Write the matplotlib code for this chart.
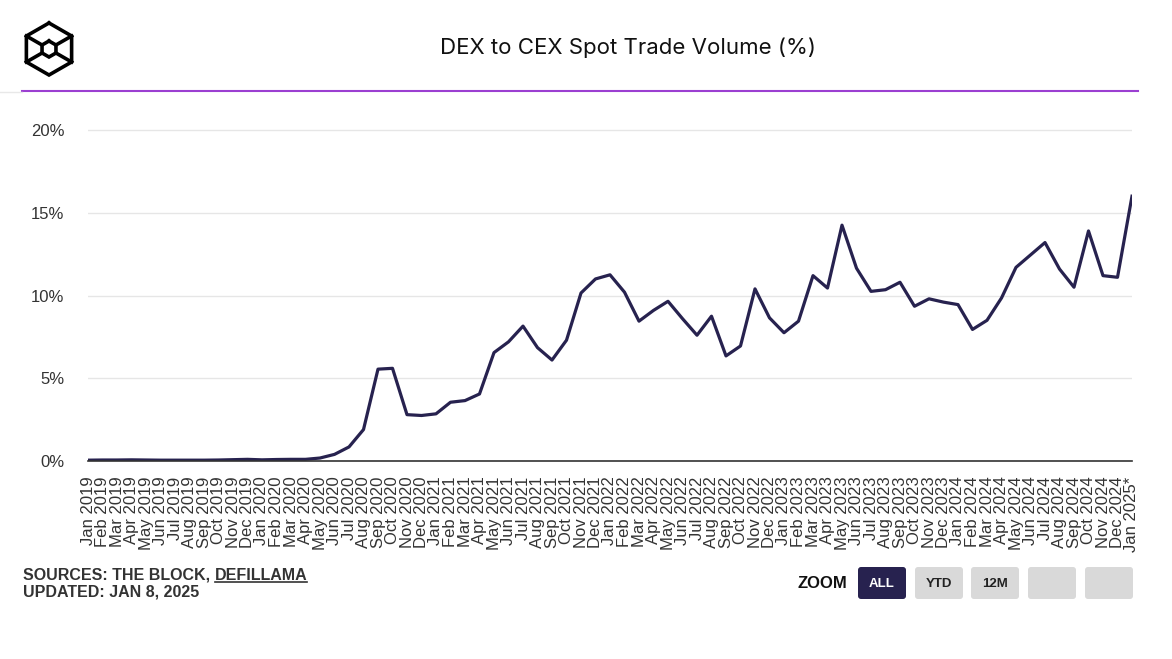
import matplotlib
matplotlib.use("Agg")
import matplotlib.pyplot as plt
from matplotlib.patches import FancyBboxPatch
from matplotlib.ticker import FuncFormatter

# chart data
months = ["Jan", "Feb", "Mar", "Apr", "May", "Jun",
          "Jul", "Aug", "Sep", "Oct", "Nov", "Dec"]
years = [2019, 2020, 2021, 2022, 2023, 2024]
labels = [m + " " + str(y) for y in years for m in months] + ["Jan 2025*"]

dex_share = [
    0.05, 0.06, 0.06, 0.07, 0.06, 0.05, 0.05, 0.05, 0.05, 0.06, 0.08, 0.10,  # 2019
    0.07, 0.09, 0.10, 0.10, 0.18, 0.40, 0.85, 1.90, 5.55, 5.60, 2.80, 2.75,  # 2020
    2.85, 3.55, 3.65, 4.05, 6.55, 7.20, 8.15, 6.85, 6.10, 7.30, 10.15, 11.00,  # 2021
    11.25, 10.20, 8.45, 9.10, 9.65, 8.60, 7.60, 8.75, 6.35, 6.95, 10.40, 8.65,  # 2022
    7.75, 8.45, 11.20, 10.45, 14.25, 11.65, 10.25, 10.35, 10.80, 9.35, 9.80, 9.60,  # 2023
    9.45, 7.95, 8.50, 9.85, 11.70, 12.45, 13.20, 11.60, 10.50, 13.90, 11.20, 11.10,  # 2024
    16.00,  # Jan 2025
]
y_ticks = [0, 5, 10, 15, 20]

W, H = 1172, 659
LINE_COL = "#27224f"
TEXT_COL = "#333333"

fig = plt.figure(figsize=(W / 100, H / 100), dpi=100)
plt.rcParams["font.family"] = ["Liberation Sans", "DejaVu Sans"]

# main plot area
ax_l, ax_r, ax_t, ax_b = 88, 1132, 125, 461
ax = fig.add_axes([ax_l / W, 1 - ax_b / H, (ax_r - ax_l) / W, (ax_b - ax_t) / H])
x = list(range(len(dex_share)))
ax.plot(x, dex_share, color=LINE_COL, lw=2.3, solid_joinstyle="round", zorder=3)
ax.set_xlim(0, len(dex_share) - 1)
ax.set_ylim(0, (ax_b - ax_t) / 16.55)
ax.set_yticks(y_ticks)
ax.yaxis.set_major_formatter(FuncFormatter(lambda v, p: "%d%%" % v))
ax.set_xticks(x)
ax.set_xticklabels(labels, rotation=90, fontsize=12, color=TEXT_COL)
ax.tick_params(axis="y", length=0, pad=17, labelsize=12, labelcolor=TEXT_COL)
ax.tick_params(axis="x", length=0, pad=11)
ax.grid(axis="y", color="#e6e6e6", lw=1)
for s in ["top", "right", "left"]:
    ax.spines[s].set_visible(False)
ax.spines["bottom"].set_color("#333333")
ax.spines["bottom"].set_linewidth(1.2)
ax.spines["bottom"].set_zorder(4)

# overlay in pixel coordinates for header, logo and footer
ov = fig.add_axes([0, 0, 1, 1], zorder=-1)
ov.set_xlim(0, W)
ov.set_ylim(H, 0)
ov.axis("off")

fig.text(628 / W, 1 - 48 / H, "DEX to CEX Spot Trade Volume (%)", ha="center",
         va="center", fontsize=16, color="#111111", family=["Inter", "DejaVu Sans"])
ov.plot([22, 1138], [91, 91], color="#9b3fd1", lw=1.5)
ov.plot([0, 22], [92, 92], color="#e8e8e8", lw=1)

# logo: hexagon with small inner hexagon
cx, cy, r, ri = 49, 49, 26, 8
outer = [(cx, cy - r), (cx + 0.87 * r, cy - r / 2), (cx + 0.87 * r, cy + r / 2),
         (cx, cy + r), (cx - 0.87 * r, cy + r / 2), (cx - 0.87 * r, cy - r / 2)]
inner = [(cx, cy - ri), (cx + 0.87 * ri, cy - ri / 2), (cx + 0.87 * ri, cy + ri / 2),
         (cx, cy + ri), (cx - 0.87 * ri, cy + ri / 2), (cx - 0.87 * ri, cy - ri / 2)]
for pts in (outer, inner):
    xs = [p[0] for p in pts] + [pts[0][0]]
    ys = [p[1] for p in pts] + [pts[0][1]]
    ov.plot(xs, ys, color="black", lw=2.6, solid_joinstyle="miter")
for i in (1, 2, 4, 5):
    ov.plot([outer[i][0], inner[i][0]], [outer[i][1], inner[i][1]], color="black", lw=2.6)

# footer
t1 = fig.text(23 / W, 1 - 575 / H, "SOURCES: THE BLOCK, ", fontsize=11.5, fontweight="bold",
              color=TEXT_COL, va="center", ha="left")
fig.canvas.draw()
bb = t1.get_window_extent()
t2 = fig.text(bb.x1 / W, 1 - 575 / H, "DEFILLAMA", fontsize=11.5, fontweight="bold",
              color=TEXT_COL, va="center", ha="left")
fig.canvas.draw()
bb2 = t2.get_window_extent()
ov.plot([bb2.x0, bb2.x1], [581.5, 581.5], color=TEXT_COL, lw=1.2)
fig.text(23 / W, 1 - 592 / H, "UPDATED: JAN 8, 2025", fontsize=11.5, fontweight="bold",
         color=TEXT_COL, va="center", ha="left")

# zoom buttons
fig.text(822 / W, 1 - 583 / H, "ZOOM", fontsize=12, fontweight="bold", color="#111111",
         ha="center", va="center")
btn_x = [858, 915, 971, 1028, 1085]
btn_txt = ["ALL", "YTD", "12M", "", ""]
for bx, bt in zip(btn_x, btn_txt):
    fc = LINE_COL if bt == "ALL" else "#d9d9d9"
    ov.add_patch(FancyBboxPatch((bx, 567), 48, 32, boxstyle="round,pad=0,rounding_size=3",
                                fc=fc, ec="none"))
    if bt:
        ov.text(bx + 24, 584, bt, fontsize=9.5, fontweight="bold",
                color="white" if bt == "ALL" else "#222222", ha="center", va="center")

fig.savefig("out.png", dpi=100)
